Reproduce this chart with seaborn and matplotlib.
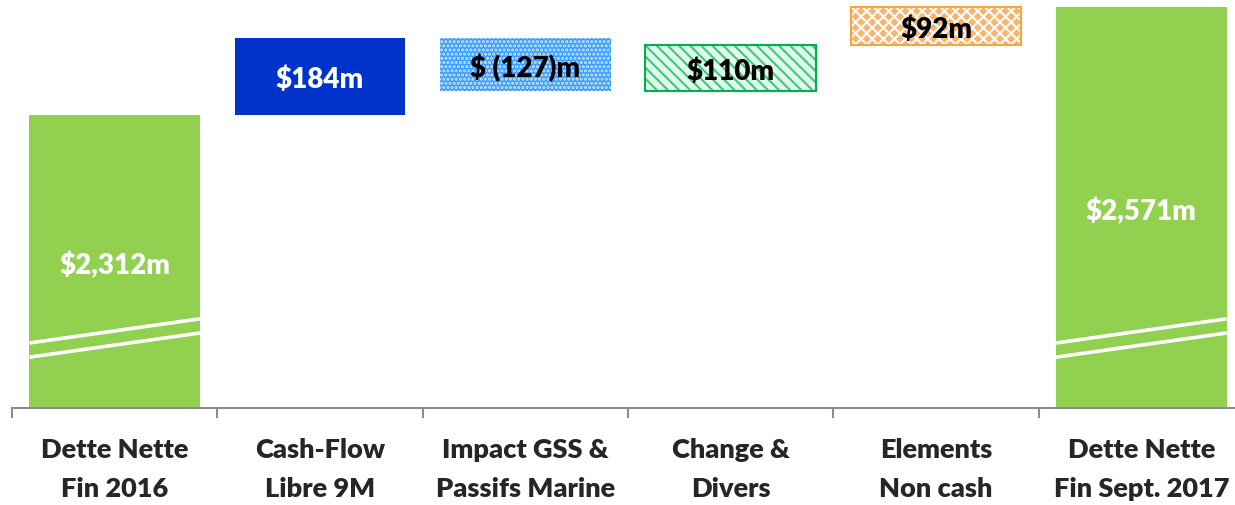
import numpy as np
import pandas as pd
import matplotlib
matplotlib.use("Agg")
import matplotlib.pyplot as plt
import seaborn as sns

categories = ["Dette Nette\nFin 2016", "Cash-Flow\nLibre 9M", "Impact GSS &\nPassifs Marine",
              "Change &\nDivers", "Elements\nNon cash", "Dette Nette\nFin Sept. 2017"]
start_debt = 2312
changes = [184, -127, 110, 92]
end_debt = 2571
value_labels = ["$2,312m", "$184m", "$ (127)m", "$110m", "$92m", "$2,571m"]

# waterfall geometry
levels = start_debt + np.cumsum([0] + changes)
bottoms = [0] + [min(levels[i], levels[i + 1]) for i in range(len(changes))] + [0]
heights = [start_debt] + [abs(c) for c in changes] + [end_debt]

sns.set_theme(style="white")
plt.rcParams["font.family"] = ["Lato", "DejaVu Sans"]
plt.rcParams["hatch.linewidth"] = 1.5

fig = plt.figure(figsize=(12.35, 5.05), dpi=100)
ax = fig.add_axes([12 / 1235, 97 / 505, 1232 / 1235, 408 / 505])

df = pd.DataFrame({"cat": categories, "height": heights})
sns.barplot(data=df, x="cat", y="height", order=categories, bottom=bottoms, width=0.83,
            color="#92D050", saturation=1, errorbar=None, ax=ax)
fills = list(ax.patches)
# border layer for the hatched bars
sns.barplot(data=df, x="cat", y="height", order=categories, bottom=bottoms, width=0.83,
            color="#92D050", saturation=1, errorbar=None, ax=ax)
borders = list(ax.patches)[len(fills):]

face = ["#92D050", "#0033CC", "#3A9EFF", "#E2F8EA", "#F9B56E", "#92D050"]
hatch_col = [None, None, "#CFE8FF", "#3ACB78", "white", None]
hatches = [None, None, "....", "\\\\\\", "xxx", None]
border_col = [None, None, None, "#00B050", "#F9A43E", None]

for i, p in enumerate(fills):
    p.set_facecolor(face[i])
    p.set_linewidth(0)
    if hatches[i]:
        p.set_hatch(hatches[i])
        p.set_edgecolor(hatch_col[i])
    else:
        p.set_edgecolor(face[i])
for i, p in enumerate(borders):
    if border_col[i]:
        p.set_facecolor("none")
        p.set_edgecolor(border_col[i])
        p.set_linewidth(1.5)
    else:
        p.set_visible(False)

ymin, ymax = 1609, 2588
ax.set_ylim(ymin, ymax)
ax.set_xlim(-0.5, len(categories) - 0.5)

# axis break marks on the total bars
for i in (0, len(categories) - 1):
    xs = [i - 0.415, i + 0.415]
    ax.plot(xs, [1765, 1823], color="white", lw=2.6, solid_capstyle="butt")
    ax.plot(xs, [1731, 1789], color="white", lw=2.6, solid_capstyle="butt")

# value labels centred on the visible part of each bar
for i, p in enumerate(fills):
    lo = max(bottoms[i], ymin)
    hi = bottoms[i] + heights[i]
    col = "white" if i in (0, 1, 5) else "black"
    ax.annotate(value_labels[i], (i, (lo + hi) / 2), xytext=(0, -2.5), textcoords="offset points",
                ha="center", va="center", fontsize=20, fontweight="heavy", color=col)

sns.despine(ax=ax, left=True)
ax.spines["bottom"].set_color("#8C8C8C")
ax.spines["bottom"].set_linewidth(1.5)
ax.set_yticks([])
ax.set_xlabel("")
ax.set_ylabel("")
ax.set_xticks(np.arange(len(categories)))
ax.set_xticklabels(categories, fontsize=19.5, fontweight="heavy", linespacing=1.78)
ax.set_xticks(np.arange(-0.5, len(categories)), minor=True)
ax.tick_params(axis="x", which="major", length=0, pad=21.5)
ax.tick_params(axis="x", which="minor", length=7.5, width=1.5, color="#8C8C8C", bottom=True)

fig.savefig("out.png", dpi=100)
